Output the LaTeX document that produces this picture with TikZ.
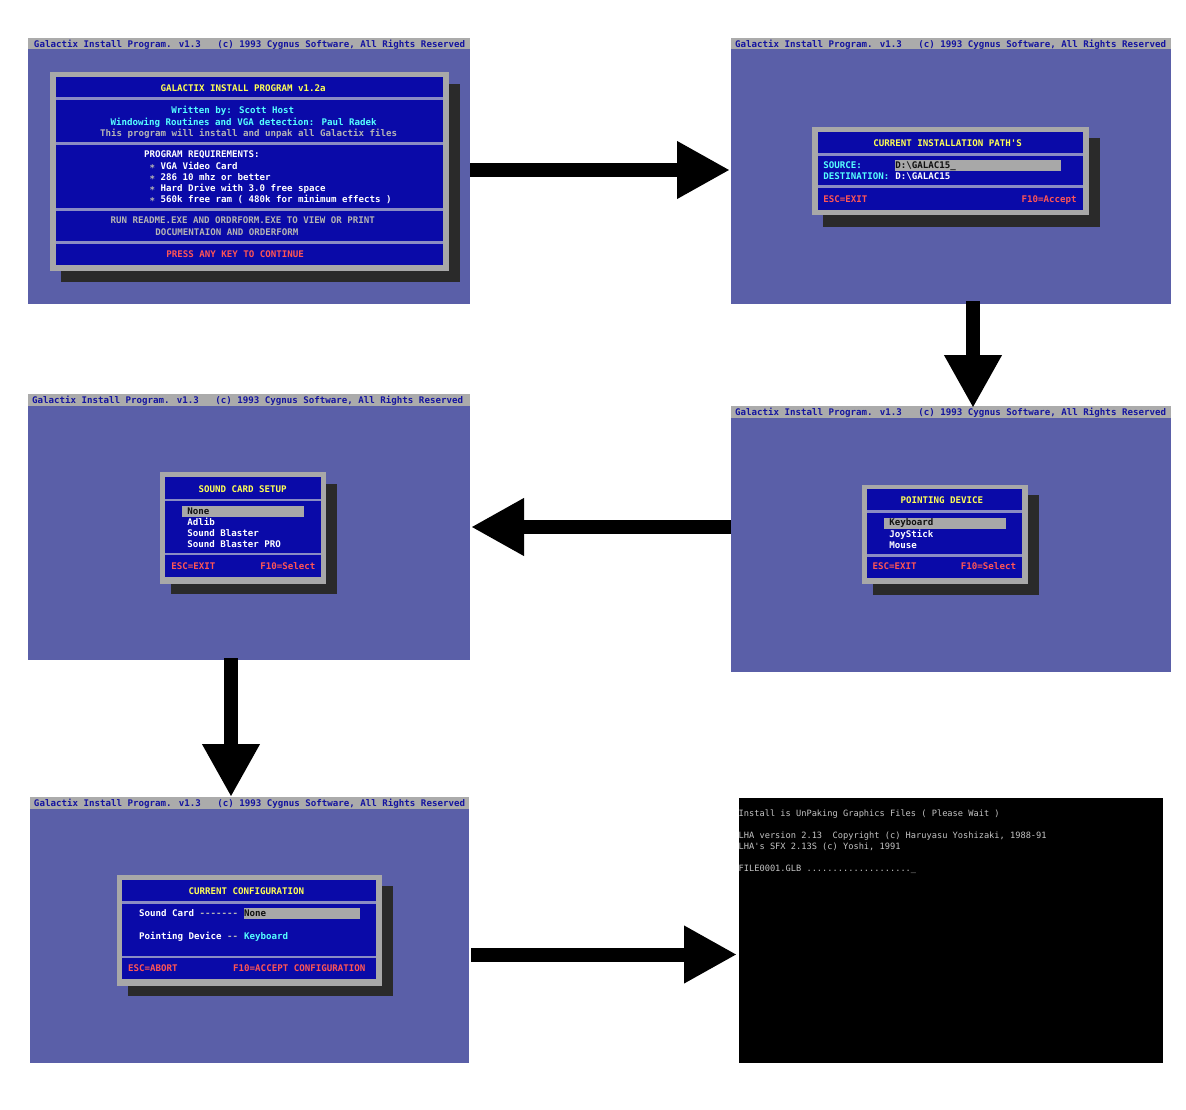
\documentclass[tikz,border=0pt]{standalone}
\usepackage{fontspec}
\usetikzlibrary{arrows.meta}
\newfontfamily\vgaf{DejaVu Sans Mono}[Ligatures=TeXOff]
\definecolor{scrbg}{HTML}{5A5FA8}
\definecolor{tbar}{HTML}{ABABAB}
\definecolor{tbtext}{HTML}{1414A0}
\definecolor{dlg}{HTML}{0A0AA8}
\definecolor{framec}{HTML}{A8A8A8}
\definecolor{shadowc}{HTML}{2A2A2A}
\definecolor{sepc}{HTML}{8A8CC4}
\definecolor{yel}{HTML}{FFFF55}
\definecolor{cyn}{HTML}{55FFFF}
\definecolor{lgr}{HTML}{B4B4B4}
\definecolor{redc}{HTML}{FF5555}
\definecolor{hl}{HTML}{A8A8A8}
\definecolor{blk}{HTML}{101010}
\definecolor{dosgray}{HTML}{C4C4C4}
\tikzset{
  screenbox/.style={fill=scrbg, inner sep=0pt, outer sep=0pt},
  vga/.style={inner sep=0pt, outer sep=0pt, anchor=base west, font=\vgaf\bfseries\fontsize{9.14}{11}\selectfont},
  tbtxt/.style={vga, text=tbtext},
  dostxt/.style={inner sep=0pt, outer sep=0pt, anchor=base west, text=dosgray, font=\vgaf\fontsize{8.67}{10}\selectfont},
  blockarrow/.style={line width=14pt, black, -{Triangle[width=54pt,length=53pt]}},
}
\begin{document}
\begin{tikzpicture}[x=1pt,y=-1pt]
\useasboundingbox (0,0) rectangle (1186,1110);

% ---------------- Screen 1 ----------------
\node[screenbox, minimum width=442pt, minimum height=266pt] (s1) at (249,171) {};
\fill[tbar] (28,38) rectangle (470,49.5);
\node[tbtxt] (s1t) at (34,47.2) {Galactix Install Program. v1.3~~~(c) 1993 Cygnus Software, All Rights Reserved};
\fill[shadowc] (61,84) rectangle (460,282);
\fill[framec] (50,72) rectangle (449,271);
\fill[dlg] (56,77) rectangle (443,265);
\fill[sepc] (56,97.4) rectangle (443,100);
\fill[sepc] (56,142) rectangle (443,144.6);
\fill[sepc] (56,208) rectangle (443,210.6);
\fill[sepc] (56,241.4) rectangle (443,244);
\node[vga,text=yel,anchor=base] (s1a) at (243.2,91.4) {GALACTIX INSTALL PROGRAM v1.2a};
\node[vga,text=cyn] (s1b) at (171.3,113.4) {Written by: Scott Host};
\node[vga,text=cyn] (s1c) at (110.7,125.1) {Windowing Routines and VGA detection: Paul Radek};
\node[vga,text=lgr] (s1d) at (100,136.1) {This program will install and unpak all Galactix files};
\node[vga,text=white] (s1e) at (144,157.4) {PROGRAM REQUIREMENTS:};
\node[vga,text=white] (s1f) at (149.5,169.1) {{\color{lgr}∗} VGA Video Card};
\node[vga,text=white] (s1g) at (149.5,180.1) {{\color{lgr}∗} 286 10 mhz or better};
\node[vga,text=white] (s1h) at (149.5,191.4) {{\color{lgr}∗} Hard Drive with 3.0 free space};
\node[vga,text=white] (s1i) at (149.5,202.4) {{\color{lgr}∗} 560k free ram ( 480k for minimum effects )};
\node[vga,text=lgr] (s1j) at (110.7,223.4) {RUN README.EXE AND ORDRFORM.EXE TO VIEW OR PRINT};
\node[vga,text=lgr] (s1k) at (155.3,235.1) {DOCUMENTAION AND ORDERFORM};
\node[vga,text=redc] (s1l) at (166.3,257.1) {PRESS ANY KEY TO CONTINUE};

% ---------------- Screen 2 ----------------
\node[screenbox, minimum width=440pt, minimum height=266pt] (s2) at (951,171) {};
\fill[tbar] (731,38) rectangle (1171,49.5);
\node[tbtxt] (s2t) at (735,47.2) {Galactix Install Program. v1.3~~~(c) 1993 Cygnus Software, All Rights Reserved};
\fill[shadowc] (823,138) rectangle (1100,227);
\fill[framec] (812,127) rectangle (1089,215);
\fill[dlg] (818,132) rectangle (1083,210);
\fill[sepc] (818,153) rectangle (1083,155.6);
\fill[sepc] (818,185.4) rectangle (1083,188);
\node[vga,text=yel] (s2a) at (873.3,146.7) {CURRENT INSTALLATION PATH\textquotesingle S};
\fill[hl] (895,160) rectangle (1061,171.3);
\node[vga,text=cyn] (s2b) at (823.3,168.7) {SOURCE:};
\node[vga,text=blk] (s2c) at (895.3,168.7) {D:\textbackslash GALAC15\_};
\node[vga,text=cyn] (s2d) at (823.3,179.7) {DESTINATION:};
\node[vga,text=white] (s2e) at (895.3,179.7) {D:\textbackslash GALAC15};
\node[vga,text=redc] (s2f) at (823.3,202.1) {ESC=EXIT};
\node[vga,text=redc,anchor=base east] (s2g) at (1076.7,202.1) {F10=Accept};

% ---------------- Screen 3 ----------------
\node[screenbox, minimum width=442pt, minimum height=266pt] (s3) at (249,527) {};
\fill[tbar] (28,394) rectangle (470,405.5);
\node[tbtxt] (s3t) at (32,403.6) {Galactix Install Program. v1.3~~~(c) 1993 Cygnus Software, All Rights Reserved};
\fill[shadowc] (171,484) rectangle (337,594);
\fill[framec] (160,472) rectangle (326,584);
\fill[dlg] (165,477) rectangle (321,577);
\fill[sepc] (165,498.7) rectangle (321,501.3);
\fill[sepc] (165,552.7) rectangle (321,555.3);
\node[vga,text=yel] (s3a) at (198.7,492.1) {SOUND CARD SETUP};
\fill[hl] (182,506) rectangle (304,517);
\node[vga,text=blk] (s3b) at (187.3,514.4) {None};
\node[vga,text=white] (s3c) at (187.3,525.4) {Adlib};
\node[vga,text=white] (s3d) at (187.3,536.4) {Sound Blaster};
\node[vga,text=white] (s3e) at (187.3,547.7) {Sound Blaster PRO};
\node[vga,text=redc] (s3f) at (171.3,569.7) {ESC=EXIT};
\node[vga,text=redc,anchor=base east] (s3g) at (315.3,569.7) {F10=Select};

% ---------------- Screen 4 ----------------
\node[screenbox, minimum width=440pt, minimum height=266pt] (s4) at (951,539) {};
\fill[tbar] (731,406) rectangle (1171,417.5);
\node[tbtxt] (s4t) at (735,415.6) {Galactix Install Program. v1.3~~~(c) 1993 Cygnus Software, All Rights Reserved};
\fill[shadowc] (873,495) rectangle (1039,595);
\fill[framec] (862,485) rectangle (1028,584);
\fill[dlg] (867,489) rectangle (1022,578);
\fill[sepc] (867,510) rectangle (1022,512.6);
\fill[sepc] (867,554) rectangle (1022,556.6);
\node[vga,text=yel] (s4a) at (900.7,503.7) {POINTING DEVICE};
\fill[hl] (884,518) rectangle (1006,529);
\node[vga,text=blk] (s4b) at (889.3,525.7) {Keyboard};
\node[vga,text=white] (s4c) at (889.3,537.1) {JoyStick};
\node[vga,text=white] (s4d) at (889.3,548.1) {Mouse};
\node[vga,text=redc] (s4e) at (872.7,569.7) {ESC=EXIT};
\node[vga,text=redc,anchor=base east] (s4f) at (1016,569.7) {F10=Select};

% ---------------- Screen 5 ----------------
\node[screenbox, minimum width=439pt, minimum height=266pt] (s5) at (249.5,930) {};
\fill[tbar] (30,797) rectangle (469,808.8);
\node[tbtxt] (s5t) at (34,806.8) {Galactix Install Program. v1.3~~~(c) 1993 Cygnus Software, All Rights Reserved};
\fill[shadowc] (128,886) rectangle (393,996);
\fill[framec] (117,875) rectangle (382,986);
\fill[dlg] (122,880) rectangle (376,979);
\fill[sepc] (122,901) rectangle (376,903.6);
\fill[sepc] (122,955.7) rectangle (376,958.3);
\node[vga,text=yel] (s5a) at (188.7,894.7) {CURRENT CONFIGURATION};
\fill[hl] (244,908) rectangle (360,919);
\node[vga,text=white] (s5b) at (139,916.7) {Sound Card};
\node[vga,text=lgr] (s5c) at (199.5,916.7) {-------};
\node[vga,text=blk] (s5d) at (244,916.7) {None};
\node[vga,text=white] (s5e) at (139,939.1) {Pointing Device};
\node[vga,text=lgr] (s5f) at (227,939.1) {--};
\node[vga,text=cyn] (s5g) at (244,939.1) {Keyboard};
\node[vga,text=redc] (s5h) at (128,971.7) {ESC=ABORT};
\node[vga,text=redc,anchor=base east] (s5i) at (365.3,971.7) {F10=ACCEPT CONFIGURATION};

% ---------------- Screen 6 ----------------
\node[fill=black, inner sep=0pt, outer sep=0pt, minimum width=424pt, minimum height=265pt] (s6) at (951,930.5) {};
\node[dostxt] (s6a) at (738.7,816.7) {Install is UnPaking Graphics Files ( Please Wait )};
\node[dostxt] (s6b) at (738.7,838.7) {LHA version 2.13~~Copyright (c) Haruyasu Yoshizaki, 1988-91};
\node[dostxt] (s6c) at (738.7,849.3) {LHA\textquotesingle s SFX 2.13S (c) Yoshi, 1991};
\node[dostxt] (s6d) at (738.7,871.3) {FILE0001.GLB ....................\_};

% ---------------- Arrows ----------------
\draw[blockarrow] ([yshift=1pt]s1.east) -- ([yshift=1pt,xshift=-1pt]s2.west);
\draw[blockarrow] ([xshift=22pt,yshift=3pt]s2.south) -- ([xshift=22pt,yshift=-2pt]s4.north);
\draw[blockarrow] ([yshift=12pt]s4.west) -- ([xshift=1pt]s3.east);
\draw[blockarrow] ([xshift=-18pt,yshift=2pt]s3.south) -- ([xshift=-18.5pt]s5.north);
\draw[blockarrow] ([yshift=-24.5pt,xshift=2pt]s5.east) -- ([yshift=-24pt,xshift=-2pt]s6.west);
\end{tikzpicture}
\end{document}
